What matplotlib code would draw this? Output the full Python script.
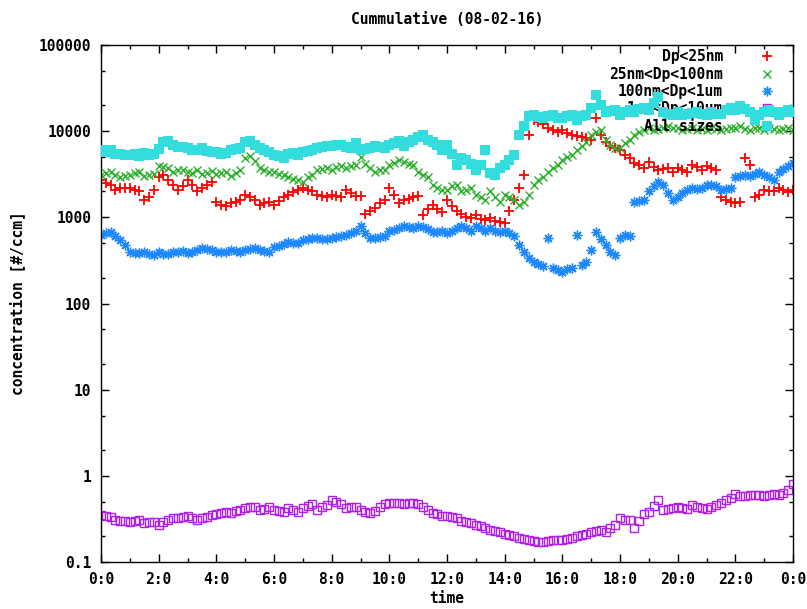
import numpy as np
import matplotlib
matplotlib.use("Agg")
import matplotlib.pyplot as plt
from matplotlib.ticker import FixedLocator, NullFormatter

# 10 minute samples, 0:00 .. 24:00 (6 values per row = one hour)
hours = np.arange(145) / 6.0

dp_lt25 = [2700, 2500, 2400, 2100, 2200, 2200,
           2200, 2100, 2000, 1600, 1700, 2100,
           2900, 3100, 2700, 2400, 2100, 2300,
           2700, 2400, 2000, 2200, 2400, 2600,
           1500, 1400, 1350, 1450, 1500, 1600,
           1800, 1700, 1600, 1400, 1450, 1500,
           1400, 1550, 1700, 1800, 1950, 2100,
           2200, 2100, 2000, 1800, 1750, 1700,
           1800, 1750, 1700, 2100, 1900, 1750,
           1750, 1100, 1200, 1300, 1450, 1600,
           2200, 1800, 1450, 1600, 1650, 1700,
           1750, 1060, 1250, 1400, 1250, 1150,
           1600, 1350, 1200, 1100, 1000, 980,
           1060, 950, 920, 980, 900, 880,
           860, 1200, 1600, 2200, 3100, 9000,
           13500, 12800, 12000, 10900, 10300, 9800,
           10300, 9600, 9000, 8700, 8500, 8300,
           7900, 14200, 9000, 7500, 6800, 6400,
           6000, 5300, 4900, 4300, 4000, 3700,
           4400, 3800, 3500, 3600, 3700, 3400,
           3700, 3500, 3400, 4000, 3800, 3500,
           3900, 3700, 3500, 1700, 1600, 1500,
           1450, 1500, 4900, 4000, 1700, 1800,
           2100, 2000, 2000, 2200, 2100, 1950,
           2100]

dp_25_100 = [3100, 3300, 3400, 3100, 2900, 3000,
             3100, 3300, 3400, 3000, 3100, 3200,
             3900, 3800, 3700, 3400, 3500, 3500,
             3400, 3300, 3500, 3200, 3300, 3450,
             3200, 3300, 3400, 3000, 3300, 3500,
             4900, 5100, 4500, 3700, 3500, 3400,
             3400, 3200, 3100, 2900, 2800, 2700,
             2600, 2900, 3100, 3500, 3600, 3700,
             3500, 3800, 3900, 3700, 3900, 4100,
             5000, 4200, 3700, 3400, 3500, 3500,
             4000, 4300, 4600, 4400, 4200, 4000,
             3400, 3100, 2900, 2400, 2200, 2100,
             2100, 2300, 2400, 2000, 2100, 2200,
             1800, 1700, 1600, 2000, 1700, 1500,
             1800, 1700, 1600, 1400, 1500, 1800,
             2400, 2700, 2900, 3400, 3700, 4000,
             4600, 5000, 5300, 6000, 6800, 7500,
             9000, 9800, 10300, 7900, 7000, 6400,
             6400, 7200, 7900, 9000, 9800, 10300,
             10900, 10300, 10600, 10900, 11500, 11000,
             10900, 10300, 10600, 10900, 10300, 10500,
             10300, 10900, 10500, 10300, 10700, 10900,
             10900, 11500, 10600, 10300, 10800, 10900,
             10300, 10900, 10500, 10300, 10600, 10900,
             10300]

dp_100_1000 = [625, 650, 675, 610, 540, 480,
               395, 390, 385, 395, 380, 365,
               395, 380, 375, 395, 400, 405,
               385, 400, 415, 440, 430, 415,
               395, 400, 395, 415, 405, 395,
               415, 430, 440, 415, 405, 395,
               450, 470, 490, 520, 510, 505,
               545, 560, 575, 575, 565, 560,
               575, 590, 600, 625, 660, 700,
               800, 650, 575, 575, 590, 600,
               700, 720, 750, 800, 780, 750,
               800, 770, 740, 675, 680, 690,
               660, 700, 750, 800, 750, 700,
               800, 750, 700, 750, 700, 675,
               700, 650, 600, 480, 400, 340,
               305, 290, 275, 575, 255, 245,
               235, 250, 260, 625, 280, 305,
               415, 675, 560, 480, 400, 365,
               575, 625, 600, 1500, 1550, 1600,
               2000, 2300, 2600, 2400, 1900, 1600,
               1700, 1900, 2100, 2200, 2150, 2200,
               2400, 2350, 2300, 2100, 2150, 2200,
               2900, 3000, 3100, 3000, 3200, 3400,
               3100, 2900, 2700, 3400, 3600, 3900,
               4300]

dp_1_10 = [0.35, 0.34, 0.33, 0.31, 0.30, 0.30,
           0.29, 0.30, 0.31, 0.28, 0.29, 0.29,
           0.27, 0.29, 0.31, 0.32, 0.32, 0.33,
           0.34, 0.32, 0.31, 0.32, 0.33, 0.35,
           0.36, 0.37, 0.38, 0.37, 0.39, 0.40,
           0.42, 0.43, 0.44, 0.40, 0.41, 0.43,
           0.40, 0.39, 0.38, 0.42, 0.40, 0.38,
           0.42, 0.45, 0.47, 0.40, 0.43, 0.46,
           0.52, 0.50, 0.47, 0.42, 0.43, 0.44,
           0.40, 0.38, 0.37, 0.39, 0.43, 0.47,
           0.49, 0.48, 0.48, 0.47, 0.48, 0.49,
           0.47, 0.43, 0.40, 0.37, 0.36, 0.34,
           0.34, 0.33, 0.32, 0.30, 0.29, 0.28,
           0.27, 0.26, 0.25, 0.235, 0.23, 0.22,
           0.21, 0.205, 0.20, 0.19, 0.185, 0.18,
           0.175, 0.17, 0.17, 0.175, 0.18, 0.18,
           0.18, 0.185, 0.19, 0.20, 0.205, 0.21,
           0.22, 0.23, 0.235, 0.22, 0.25, 0.27,
           0.32, 0.31, 0.31, 0.25, 0.30, 0.36,
           0.38, 0.45, 0.52, 0.40, 0.41, 0.42,
           0.44, 0.42, 0.41, 0.46, 0.44, 0.42,
           0.41, 0.44, 0.46, 0.49, 0.52, 0.55,
           0.61, 0.59, 0.58, 0.60, 0.60, 0.60,
           0.58, 0.60, 0.61, 0.60, 0.64, 0.69,
           0.81]

all_sizes = [6000, 5800, 6000, 5500, 5400, 5300,
             5300, 5500, 5200, 5600, 5300, 5500,
             6200, 7400, 7600, 6900, 6600, 6500,
             6400, 6100, 6000, 6300, 5900, 5700,
             5700, 5500, 5600, 6000, 6200, 6400,
             7500, 7600, 7000, 6400, 6000, 5700,
             5300, 5100, 4900, 5400, 5600, 5300,
             5700, 5900, 6000, 6300, 6500, 6700,
             6700, 6900, 7000, 6500, 6400, 7200,
             6000, 6200, 6400, 6700, 6600, 6400,
             6900, 7300, 7600, 6800, 7500, 7900,
             8600, 9000, 7900, 7400, 7000, 6000,
             6900, 5500, 4000, 4900, 4600, 4200,
             3500, 4000, 6000, 3300, 3100, 3700,
             4000, 4600, 5300, 9000, 11500, 15000,
             15400, 14500, 14200, 15000, 15400, 14200,
             14200, 15000, 15400, 13500, 14800, 15400,
             18600, 26000, 20000, 16700, 17000, 17600,
             15400, 16500, 17600, 16700, 18000, 18600,
             17600, 21000, 25000, 16700, 15800, 15400,
             16700, 15400, 15800, 16200, 16700, 16000,
             15400, 16700, 16000, 15800, 17500, 18600,
             17600, 19600, 18000, 16700, 13500, 15500,
             16700, 17600, 16500, 15400, 16800, 17600,
             16700]

labels = ["Dp<25nm", "25nm<Dp<100nm", "100nm<Dp<1um", "1um<Dp<10um", "All sizes"]
xtick_labels = ["0:0", "2:0", "4:0", "6:0", "8:0", "10:0", "12:0",
                "14:0", "16:0", "18:0", "20:0", "22:0", "0:0"]
ytick_labels = ["0.1", "1", "10", "100", "1000", "10000", "100000"]

font = {"family": "DejaVu Sans Mono", "weight": "bold", "size": 10.5}

fig = plt.figure(figsize=(8.07, 6.09), dpi=100)
ax = fig.add_axes([101 / 807, 47 / 609, 692 / 807, 517 / 609])

ax.plot(hours, dp_lt25, ls="none", marker="+", ms=7, mew=1.3, color="#ff0000",
        label=labels[0], zorder=2)
ax.plot(hours, dp_25_100, ls="none", marker="x", ms=6, mew=1.0, color="#2db02d",
        label=labels[1], zorder=2)
ax.plot(hours, dp_100_1000, ls="none", marker=(8, 2, 0), ms=7, mew=1.0,
        color="#1e88ff", label=labels[2], zorder=2)
ax.plot(hours, dp_1_10, ls="none", marker="s", ms=6, mew=1.0, mfc="none",
        color="#b01ee8", label=labels[3], zorder=2)
ax.plot(hours, all_sizes, ls="none", marker="s", ms=7.5, mew=0, color="#33dddd",
        label=labels[4], zorder=3)

ax.set_yscale("log")
ax.set_xlim(0, 24)
ax.set_ylim(0.1, 100000)

ax.xaxis.set_major_locator(FixedLocator(np.arange(0, 25, 2)))
ax.xaxis.set_minor_locator(FixedLocator(np.arange(1, 24, 2)))
ax.set_xticklabels(xtick_labels, fontdict=font)

decades = [0.1, 1, 10, 100, 1000, 10000, 100000]
ax.yaxis.set_major_locator(FixedLocator(decades))
minors = [d * m for d in decades[:-1] for m in (2, 5)]
ax.yaxis.set_minor_locator(FixedLocator(minors))
ax.yaxis.set_minor_formatter(NullFormatter())
ax.set_yticklabels(ytick_labels, fontdict=font)

ax.tick_params(which="both", direction="in", top=True, right=True, width=1)
ax.tick_params(which="major", length=6, pad=7)
ax.tick_params(which="minor", length=3)
for s in ax.spines.values():
    s.set_linewidth(1)

ax.set_title("Cummulative (08-02-16)", fontdict=font, pad=15)
ax.set_xlabel("time", fontdict=font, labelpad=3)
ax.set_ylabel("concentration [#/ccm]", fontdict=font, labelpad=10)

leg = ax.legend(loc="upper right", bbox_to_anchor=(0.985, 1.0),
                markerfirst=False, frameon=False,
                prop={"family": "DejaVu Sans Mono", "weight": "bold", "size": 10.5},
                handlelength=1.5, handletextpad=2.3, labelspacing=0.16,
                borderpad=0.3, borderaxespad=0)
leg.set_zorder(2.5)

fig.savefig("out.png", dpi=100)
